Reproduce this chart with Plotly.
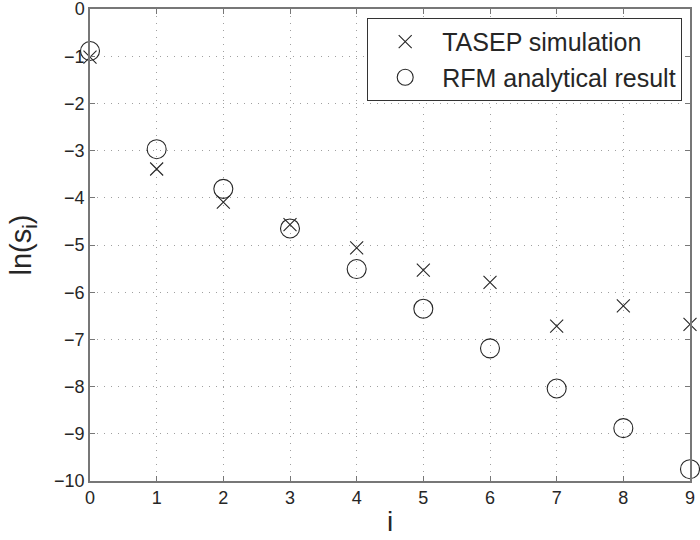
import plotly.graph_objects as go

# site index i
sites = [0, 1, 2, 3, 4, 5, 6, 7, 8, 9]
# ln(s_i) from TASEP simulation
tasep = [-1.02, -3.39, -4.09, -4.57, -5.06, -5.53, -5.79, -6.72, -6.29, -6.68]
# ln(s_i) from RFM analytical result
rfm = [-0.89, -2.97, -3.81, -4.65, -5.51, -6.35, -7.19, -8.04, -8.88, -9.75]

font = "Liberation Sans, Arial, sans-serif"
ink = "#262626"

fig = go.Figure()
fig.add_trace(go.Scatter(
    x=sites, y=tasep, mode="markers", name="TASEP simulation",
    marker=dict(symbol="x-thin-open", size=13, color=ink,
                line=dict(color=ink, width=1.1)),
    cliponaxis=False,
))
fig.add_trace(go.Scatter(
    x=sites, y=rfm, mode="markers", name="RFM analytical result",
    marker=dict(symbol="circle-open", size=19, color=ink,
                line=dict(color=ink, width=1.1)),
    cliponaxis=False,
))

axis = dict(
    showline=True, linecolor="#777777", linewidth=1.5, mirror="ticks",
    ticks="inside", ticklen=5, tickcolor="#777777", tickwidth=1,
    showgrid=True, gridcolor="#a0a0a0", gridwidth=1, griddash="1px,6px",
    zeroline=False, automargin=False, ticklabeloverflow="allow",
    tickfont=dict(family=font, size=18, color=ink),
)

fig.update_xaxes(axis, range=[0, 9], dtick=1,
                 title=dict(text="i", font=dict(family=font, size=28, color=ink),
                            standoff=4))
fig.update_yaxes(axis, range=[-10, 0], dtick=1,
                 title=dict(text="ln(s<sub>i</sub>)",
                            font=dict(family=font, size=29, color=ink),
                            standoff=14))

fig.update_layout(
    width=700, height=540,
    margin=dict(l=90, r=10, t=9, b=59, autoexpand=False),
    plot_bgcolor="white", paper_bgcolor="white",
    legend=dict(
        x=0.987, y=0.981, xanchor="right", yanchor="top",
        bgcolor="white", bordercolor="#333333", borderwidth=1,
        font=dict(family=font, size=25, color=ink),
        itemwidth=64, tracegroupgap=0,
    ),
)

fig.write_html("out.html", config={"displayModeBar": False},
               post_script="document.body.style.margin='0';")
